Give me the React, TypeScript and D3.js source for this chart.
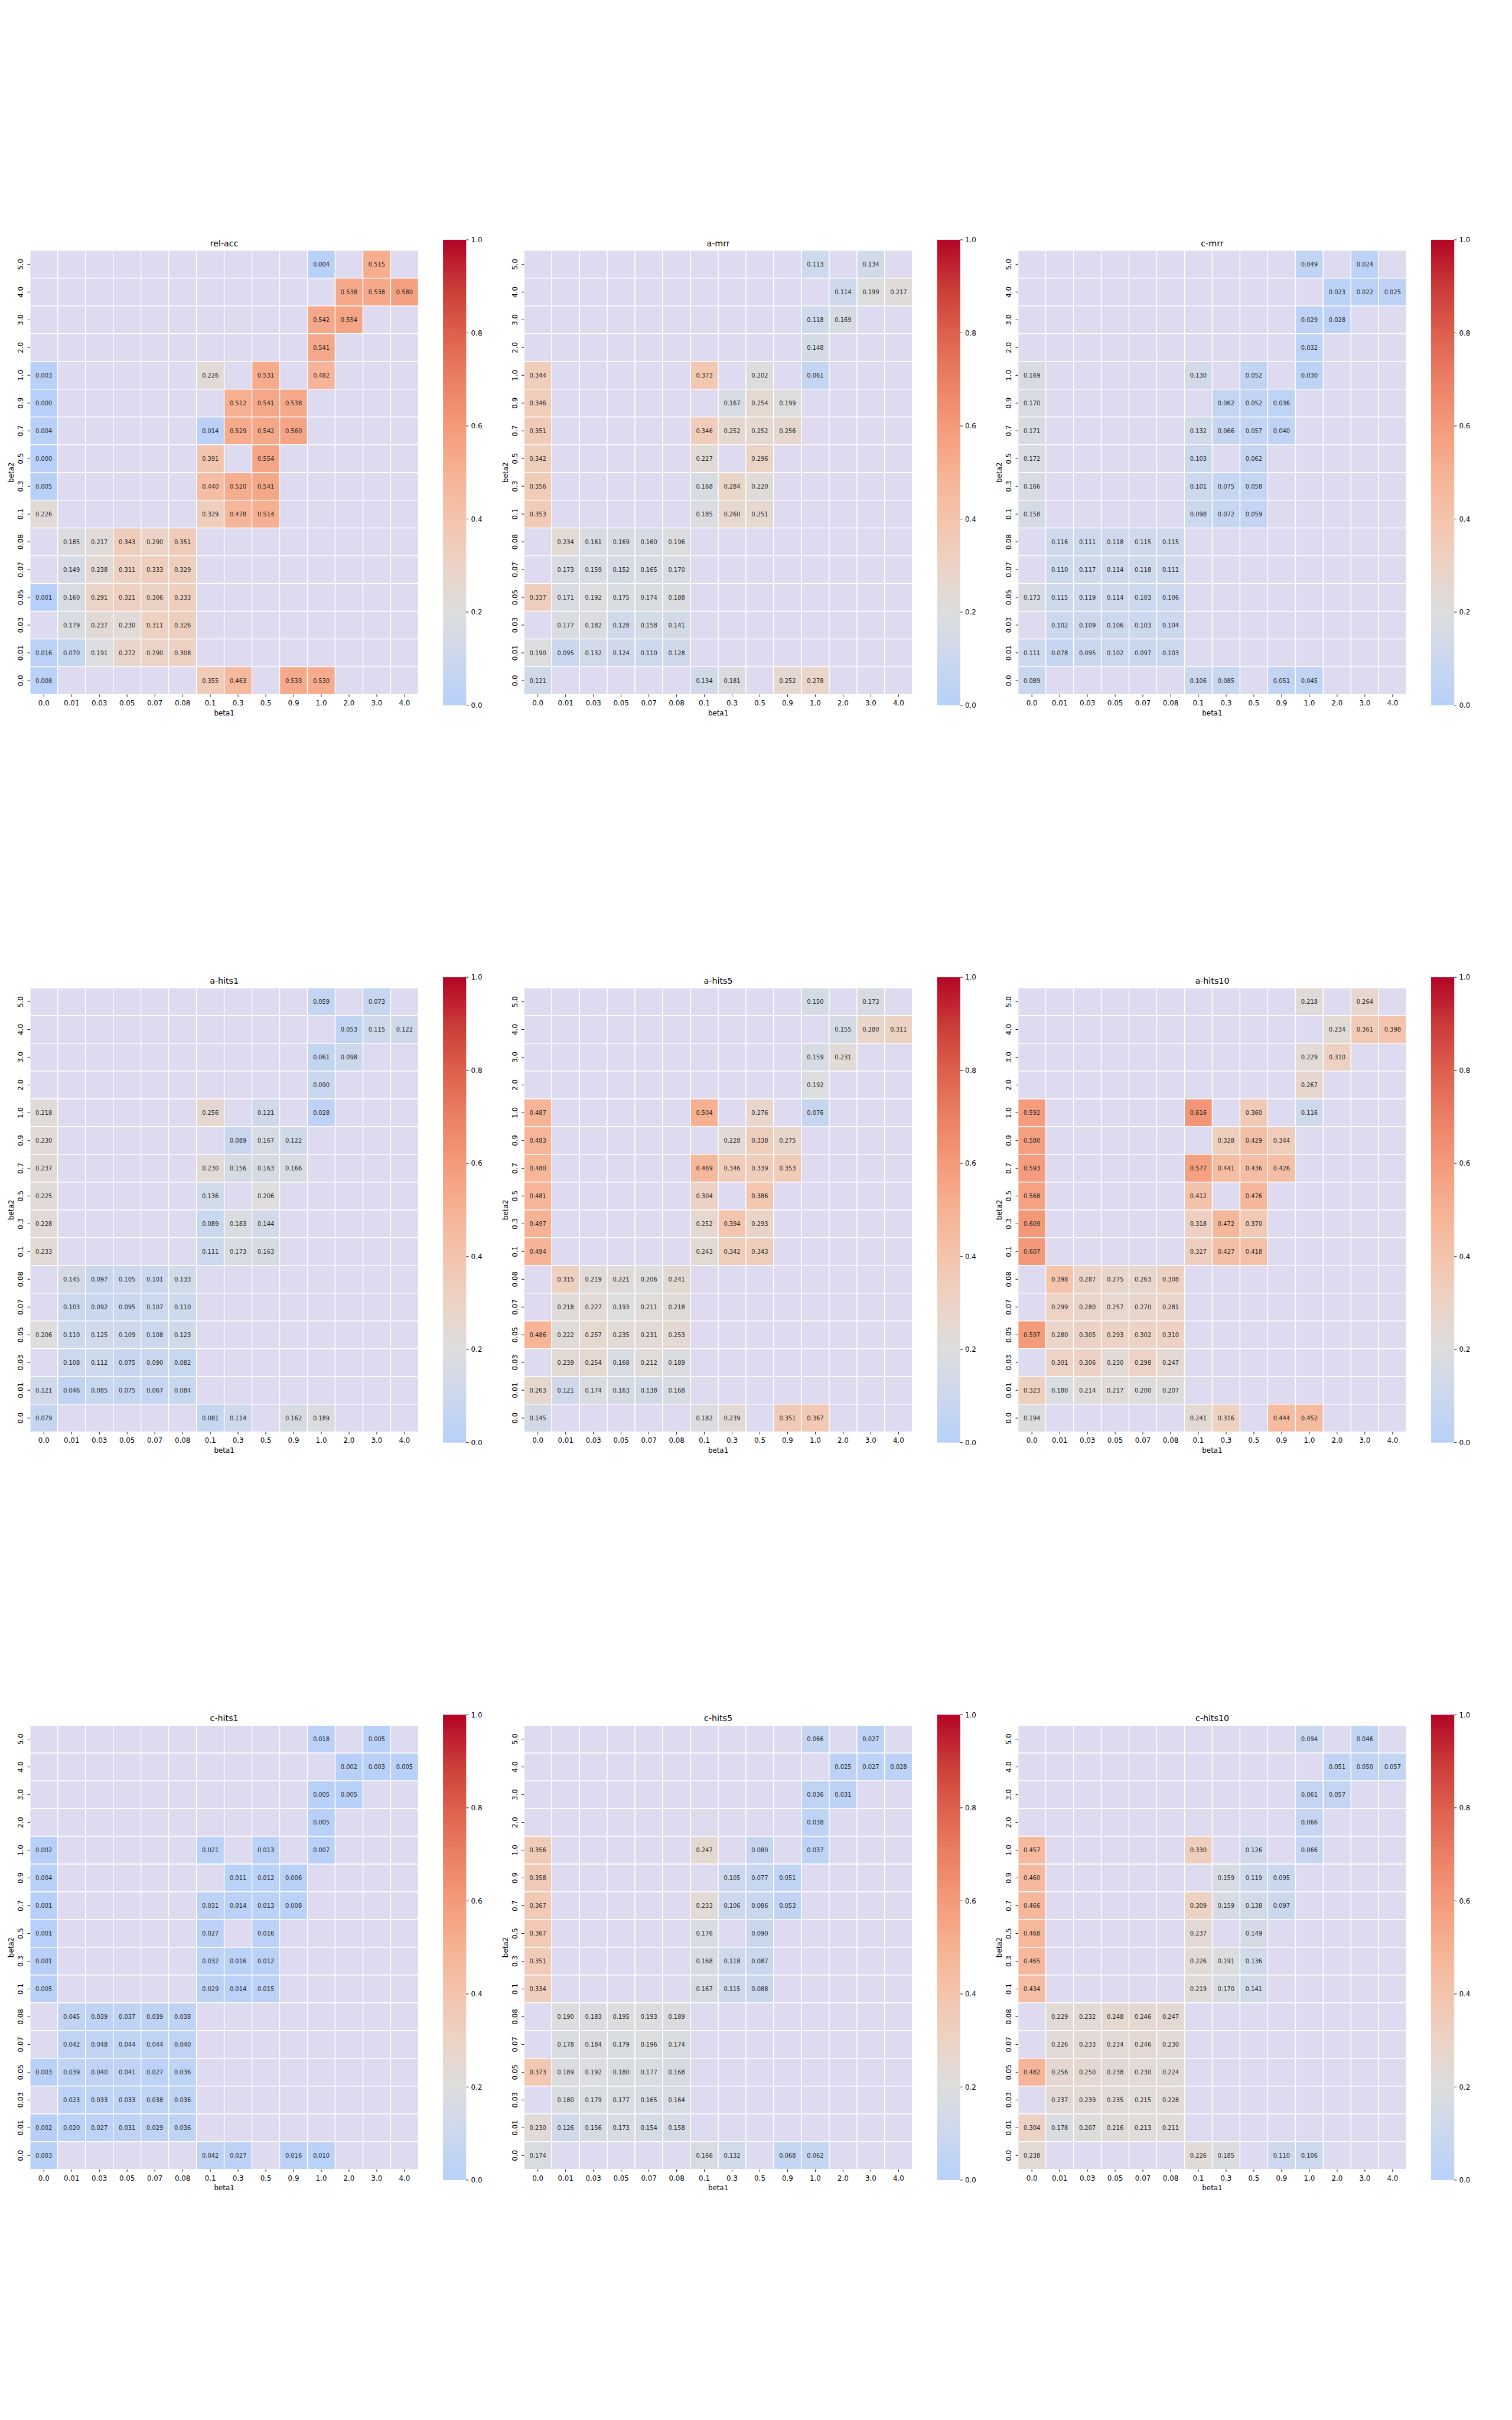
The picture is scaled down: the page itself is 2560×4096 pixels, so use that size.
import React from "react";
import * as d3 from "d3";

const BETA1 = ["0.0", "0.01", "0.03", "0.05", "0.07", "0.08", "0.1", "0.3", "0.5", "0.9", "1.0", "2.0", "3.0", "4.0"];
const BETA2 = ["5.0", "4.0", "3.0", "2.0", "1.0", "0.9", "0.7", "0.5", "0.3", "0.1", "0.08", "0.07", "0.05", "0.03", "0.01", "0.0"];
const CB_TICKS = [0, 0.2, 0.4, 0.6, 0.8, 1.0];

const _ = null;

const REL_ACC = [
  [_, _, _, _, _, _, _, _, _, _, 0.004, _, 0.515, _],
  [_, _, _, _, _, _, _, _, _, _, _, 0.538, 0.538, 0.580],
  [_, _, _, _, _, _, _, _, _, _, 0.542, 0.554, _, _],
  [_, _, _, _, _, _, _, _, _, _, 0.541, _, _, _],
  [0.003, _, _, _, _, _, 0.226, _, 0.531, _, 0.482, _, _, _],
  [0.000, _, _, _, _, _, _, 0.512, 0.541, 0.538, _, _, _, _],
  [0.004, _, _, _, _, _, 0.014, 0.529, 0.542, 0.560, _, _, _, _],
  [0.000, _, _, _, _, _, 0.391, _, 0.554, _, _, _, _, _],
  [0.005, _, _, _, _, _, 0.440, 0.520, 0.541, _, _, _, _, _],
  [0.226, _, _, _, _, _, 0.329, 0.478, 0.514, _, _, _, _, _],
  [_, 0.185, 0.217, 0.343, 0.290, 0.351, _, _, _, _, _, _, _, _],
  [_, 0.149, 0.238, 0.311, 0.333, 0.329, _, _, _, _, _, _, _, _],
  [0.001, 0.160, 0.291, 0.321, 0.306, 0.333, _, _, _, _, _, _, _, _],
  [_, 0.179, 0.237, 0.230, 0.311, 0.326, _, _, _, _, _, _, _, _],
  [0.016, 0.070, 0.191, 0.272, 0.290, 0.308, _, _, _, _, _, _, _, _],
  [0.008, _, _, _, _, _, 0.355, 0.463, _, 0.533, 0.530, _, _, _],
];

const A_MRR = [
  [_, _, _, _, _, _, _, _, _, _, 0.113, _, 0.134, _],
  [_, _, _, _, _, _, _, _, _, _, _, 0.114, 0.199, 0.217],
  [_, _, _, _, _, _, _, _, _, _, 0.118, 0.169, _, _],
  [_, _, _, _, _, _, _, _, _, _, 0.148, _, _, _],
  [0.344, _, _, _, _, _, 0.373, _, 0.202, _, 0.061, _, _, _],
  [0.346, _, _, _, _, _, _, 0.167, 0.254, 0.199, _, _, _, _],
  [0.351, _, _, _, _, _, 0.346, 0.252, 0.252, 0.256, _, _, _, _],
  [0.342, _, _, _, _, _, 0.227, _, 0.296, _, _, _, _, _],
  [0.356, _, _, _, _, _, 0.168, 0.284, 0.220, _, _, _, _, _],
  [0.353, _, _, _, _, _, 0.185, 0.260, 0.251, _, _, _, _, _],
  [_, 0.234, 0.161, 0.169, 0.160, 0.196, _, _, _, _, _, _, _, _],
  [_, 0.173, 0.159, 0.152, 0.165, 0.170, _, _, _, _, _, _, _, _],
  [0.337, 0.171, 0.192, 0.175, 0.174, 0.188, _, _, _, _, _, _, _, _],
  [_, 0.177, 0.182, 0.128, 0.158, 0.141, _, _, _, _, _, _, _, _],
  [0.190, 0.095, 0.132, 0.124, 0.110, 0.128, _, _, _, _, _, _, _, _],
  [0.121, _, _, _, _, _, 0.134, 0.181, _, 0.252, 0.278, _, _, _],
];

const C_MRR = [
  [_, _, _, _, _, _, _, _, _, _, 0.049, _, 0.024, _],
  [_, _, _, _, _, _, _, _, _, _, _, 0.023, 0.022, 0.025],
  [_, _, _, _, _, _, _, _, _, _, 0.029, 0.028, _, _],
  [_, _, _, _, _, _, _, _, _, _, 0.032, _, _, _],
  [0.169, _, _, _, _, _, 0.130, _, 0.052, _, 0.030, _, _, _],
  [0.170, _, _, _, _, _, _, 0.062, 0.052, 0.036, _, _, _, _],
  [0.171, _, _, _, _, _, 0.132, 0.066, 0.057, 0.040, _, _, _, _],
  [0.172, _, _, _, _, _, 0.103, _, 0.062, _, _, _, _, _],
  [0.166, _, _, _, _, _, 0.101, 0.075, 0.058, _, _, _, _, _],
  [0.158, _, _, _, _, _, 0.098, 0.072, 0.059, _, _, _, _, _],
  [_, 0.116, 0.111, 0.118, 0.115, 0.115, _, _, _, _, _, _, _, _],
  [_, 0.110, 0.117, 0.114, 0.118, 0.111, _, _, _, _, _, _, _, _],
  [0.173, 0.115, 0.119, 0.114, 0.103, 0.106, _, _, _, _, _, _, _, _],
  [_, 0.102, 0.109, 0.106, 0.103, 0.104, _, _, _, _, _, _, _, _],
  [0.111, 0.078, 0.095, 0.102, 0.097, 0.103, _, _, _, _, _, _, _, _],
  [0.089, _, _, _, _, _, 0.106, 0.085, _, 0.051, 0.045, _, _, _],
];

const A_HITS1 = [
  [_, _, _, _, _, _, _, _, _, _, 0.059, _, 0.073, _],
  [_, _, _, _, _, _, _, _, _, _, _, 0.053, 0.115, 0.122],
  [_, _, _, _, _, _, _, _, _, _, 0.061, 0.098, _, _],
  [_, _, _, _, _, _, _, _, _, _, 0.090, _, _, _],
  [0.218, _, _, _, _, _, 0.256, _, 0.121, _, 0.028, _, _, _],
  [0.230, _, _, _, _, _, _, 0.089, 0.167, 0.122, _, _, _, _],
  [0.237, _, _, _, _, _, 0.230, 0.156, 0.163, 0.166, _, _, _, _],
  [0.225, _, _, _, _, _, 0.136, _, 0.206, _, _, _, _, _],
  [0.228, _, _, _, _, _, 0.089, 0.183, 0.144, _, _, _, _, _],
  [0.233, _, _, _, _, _, 0.111, 0.173, 0.163, _, _, _, _, _],
  [_, 0.145, 0.097, 0.105, 0.101, 0.133, _, _, _, _, _, _, _, _],
  [_, 0.103, 0.092, 0.095, 0.107, 0.110, _, _, _, _, _, _, _, _],
  [0.206, 0.110, 0.125, 0.109, 0.108, 0.123, _, _, _, _, _, _, _, _],
  [_, 0.108, 0.112, 0.075, 0.090, 0.082, _, _, _, _, _, _, _, _],
  [0.121, 0.046, 0.085, 0.075, 0.067, 0.084, _, _, _, _, _, _, _, _],
  [0.079, _, _, _, _, _, 0.081, 0.114, _, 0.162, 0.189, _, _, _],
];

const A_HITS5 = [
  [_, _, _, _, _, _, _, _, _, _, 0.150, _, 0.173, _],
  [_, _, _, _, _, _, _, _, _, _, _, 0.155, 0.280, 0.311],
  [_, _, _, _, _, _, _, _, _, _, 0.159, 0.231, _, _],
  [_, _, _, _, _, _, _, _, _, _, 0.192, _, _, _],
  [0.487, _, _, _, _, _, 0.504, _, 0.276, _, 0.076, _, _, _],
  [0.483, _, _, _, _, _, _, 0.228, 0.338, 0.275, _, _, _, _],
  [0.480, _, _, _, _, _, 0.469, 0.346, 0.339, 0.353, _, _, _, _],
  [0.481, _, _, _, _, _, 0.304, _, 0.386, _, _, _, _, _],
  [0.497, _, _, _, _, _, 0.252, 0.394, 0.293, _, _, _, _, _],
  [0.494, _, _, _, _, _, 0.243, 0.342, 0.343, _, _, _, _, _],
  [_, 0.315, 0.219, 0.221, 0.206, 0.241, _, _, _, _, _, _, _, _],
  [_, 0.218, 0.227, 0.193, 0.211, 0.218, _, _, _, _, _, _, _, _],
  [0.486, 0.222, 0.257, 0.235, 0.231, 0.253, _, _, _, _, _, _, _, _],
  [_, 0.239, 0.254, 0.168, 0.212, 0.189, _, _, _, _, _, _, _, _],
  [0.263, 0.121, 0.174, 0.163, 0.138, 0.168, _, _, _, _, _, _, _, _],
  [0.145, _, _, _, _, _, 0.182, 0.239, _, 0.351, 0.367, _, _, _],
];

const A_HITS10 = [
  [_, _, _, _, _, _, _, _, _, _, 0.218, _, 0.264, _],
  [_, _, _, _, _, _, _, _, _, _, _, 0.234, 0.361, 0.398],
  [_, _, _, _, _, _, _, _, _, _, 0.229, 0.310, _, _],
  [_, _, _, _, _, _, _, _, _, _, 0.267, _, _, _],
  [0.592, _, _, _, _, _, 0.616, _, 0.360, _, 0.116, _, _, _],
  [0.580, _, _, _, _, _, _, 0.328, 0.429, 0.344, _, _, _, _],
  [0.593, _, _, _, _, _, 0.577, 0.441, 0.436, 0.426, _, _, _, _],
  [0.568, _, _, _, _, _, 0.412, _, 0.476, _, _, _, _, _],
  [0.609, _, _, _, _, _, 0.318, 0.472, 0.370, _, _, _, _, _],
  [0.607, _, _, _, _, _, 0.327, 0.427, 0.418, _, _, _, _, _],
  [_, 0.398, 0.287, 0.275, 0.263, 0.308, _, _, _, _, _, _, _, _],
  [_, 0.299, 0.280, 0.257, 0.270, 0.281, _, _, _, _, _, _, _, _],
  [0.597, 0.280, 0.305, 0.293, 0.302, 0.310, _, _, _, _, _, _, _, _],
  [_, 0.301, 0.306, 0.230, 0.298, 0.247, _, _, _, _, _, _, _, _],
  [0.323, 0.180, 0.214, 0.217, 0.200, 0.207, _, _, _, _, _, _, _, _],
  [0.194, _, _, _, _, _, 0.241, 0.316, _, 0.444, 0.452, _, _, _],
];

const C_HITS1 = [
  [_, _, _, _, _, _, _, _, _, _, 0.018, _, 0.005, _],
  [_, _, _, _, _, _, _, _, _, _, _, 0.002, 0.003, 0.005],
  [_, _, _, _, _, _, _, _, _, _, 0.005, 0.005, _, _],
  [_, _, _, _, _, _, _, _, _, _, 0.005, _, _, _],
  [0.002, _, _, _, _, _, 0.021, _, 0.013, _, 0.007, _, _, _],
  [0.004, _, _, _, _, _, _, 0.011, 0.012, 0.006, _, _, _, _],
  [0.001, _, _, _, _, _, 0.031, 0.014, 0.013, 0.008, _, _, _, _],
  [0.001, _, _, _, _, _, 0.027, _, 0.016, _, _, _, _, _],
  [0.001, _, _, _, _, _, 0.032, 0.016, 0.012, _, _, _, _, _],
  [0.005, _, _, _, _, _, 0.029, 0.014, 0.015, _, _, _, _, _],
  [_, 0.045, 0.039, 0.037, 0.039, 0.038, _, _, _, _, _, _, _, _],
  [_, 0.042, 0.048, 0.044, 0.044, 0.040, _, _, _, _, _, _, _, _],
  [0.003, 0.039, 0.040, 0.041, 0.027, 0.036, _, _, _, _, _, _, _, _],
  [_, 0.023, 0.033, 0.033, 0.038, 0.036, _, _, _, _, _, _, _, _],
  [0.002, 0.020, 0.027, 0.031, 0.029, 0.036, _, _, _, _, _, _, _, _],
  [0.003, _, _, _, _, _, 0.042, 0.027, _, 0.016, 0.010, _, _, _],
];

const C_HITS5 = [
  [_, _, _, _, _, _, _, _, _, _, 0.066, _, 0.027, _],
  [_, _, _, _, _, _, _, _, _, _, _, 0.025, 0.027, 0.028],
  [_, _, _, _, _, _, _, _, _, _, 0.036, 0.031, _, _],
  [_, _, _, _, _, _, _, _, _, _, 0.038, _, _, _],
  [0.356, _, _, _, _, _, 0.247, _, 0.080, _, 0.037, _, _, _],
  [0.358, _, _, _, _, _, _, 0.105, 0.077, 0.051, _, _, _, _],
  [0.367, _, _, _, _, _, 0.233, 0.106, 0.086, 0.053, _, _, _, _],
  [0.367, _, _, _, _, _, 0.176, _, 0.090, _, _, _, _, _],
  [0.351, _, _, _, _, _, 0.168, 0.118, 0.087, _, _, _, _, _],
  [0.334, _, _, _, _, _, 0.167, 0.115, 0.088, _, _, _, _, _],
  [_, 0.190, 0.183, 0.195, 0.193, 0.189, _, _, _, _, _, _, _, _],
  [_, 0.178, 0.184, 0.179, 0.196, 0.174, _, _, _, _, _, _, _, _],
  [0.373, 0.189, 0.192, 0.180, 0.177, 0.168, _, _, _, _, _, _, _, _],
  [_, 0.180, 0.179, 0.177, 0.165, 0.164, _, _, _, _, _, _, _, _],
  [0.230, 0.126, 0.156, 0.173, 0.154, 0.158, _, _, _, _, _, _, _, _],
  [0.174, _, _, _, _, _, 0.166, 0.132, _, 0.068, 0.062, _, _, _],
];

const C_HITS10 = [
  [_, _, _, _, _, _, _, _, _, _, 0.094, _, 0.046, _],
  [_, _, _, _, _, _, _, _, _, _, _, 0.051, 0.050, 0.057],
  [_, _, _, _, _, _, _, _, _, _, 0.061, 0.057, _, _],
  [_, _, _, _, _, _, _, _, _, _, 0.066, _, _, _],
  [0.457, _, _, _, _, _, 0.330, _, 0.126, _, 0.066, _, _, _],
  [0.460, _, _, _, _, _, _, 0.159, 0.119, 0.095, _, _, _, _],
  [0.466, _, _, _, _, _, 0.309, 0.159, 0.138, 0.097, _, _, _, _],
  [0.468, _, _, _, _, _, 0.237, _, 0.149, _, _, _, _, _],
  [0.465, _, _, _, _, _, 0.226, 0.191, 0.136, _, _, _, _, _],
  [0.434, _, _, _, _, _, 0.219, 0.170, 0.141, _, _, _, _, _],
  [_, 0.229, 0.232, 0.248, 0.246, 0.247, _, _, _, _, _, _, _, _],
  [_, 0.226, 0.233, 0.234, 0.246, 0.230, _, _, _, _, _, _, _, _],
  [0.482, 0.256, 0.250, 0.238, 0.230, 0.224, _, _, _, _, _, _, _, _],
  [_, 0.237, 0.239, 0.235, 0.215, 0.228, _, _, _, _, _, _, _, _],
  [0.304, 0.178, 0.207, 0.216, 0.213, 0.211, _, _, _, _, _, _, _, _],
  [0.238, _, _, _, _, _, 0.226, 0.185, _, 0.110, 0.106, _, _, _],
];

const TITLES = ["rel-acc", "a-mrr", "c-mrr", "a-hits1", "a-hits5", "a-hits10", "c-hits1", "c-hits5", "c-hits10"];
const GRIDS = [REL_ACC, A_MRR, C_MRR, A_HITS1, A_HITS5, A_HITS10, C_HITS1, C_HITS5, C_HITS10];

// coolwarm sampled from 0.375 to 1.0 (colorbar value 0..1)
const CMAP_STOPS = [0, 0.1, 0.2, 0.3, 0.4, 0.5, 0.6, 0.7, 0.8, 0.9, 1.0];
const CMAP_COLORS = [
  "rgb(184,208,249)", "rgb(203,216,238)", "rgb(221,221,221)", "rgb(236,211,197)",
  "rgb(244,196,173)", "rgb(246,178,147)", "rgb(244,154,123)", "rgb(235,127,99)",
  "rgb(221,96,77)", "rgb(201,58,55)", "rgb(180,4,38)",
];

const SCALE = 2560 / 3000;
const CELL = 55.05;
const COL_X0 = 59.5;
const COL_STEP = 980.2;
const ROW_Y0 = 496.7;
const ROW_STEP = 1462.7;
const FONT = "'DejaVu Sans', sans-serif";
const NAN_FILL = "#dedaf0";
const TEXT = "#262626";

const color = d3.scaleLinear<string>().domain(CMAP_STOPS).range(CMAP_COLORS).interpolate(d3.interpolateRgb).clamp(true);
const fmt = d3.format(".3f");
const fmt1 = d3.format(".1f");

function Panel({ idx }: { idx: number }) {
  const col = idx % 3;
  const row = Math.floor(idx / 3);
  const x0 = COL_X0 + col * COL_STEP;
  const y0 = ROW_Y0 + row * ROW_STEP;
  const xs = d3.scaleBand<string>().domain(BETA1).range([x0, x0 + BETA1.length * CELL]);
  const ys = d3.scaleBand<string>().domain(BETA2).range([y0, y0 + BETA2.length * CELL]);
  const grid = GRIDS[idx];
  const x1 = x0 + BETA1.length * CELL;
  const y1 = y0 + BETA2.length * CELL;
  const cx = (x0 + x1) / 2;
  const cy = (y0 + y1) / 2;
  const cbTop = y0 - 21;
  const cbH = 923;
  const cbX = x0 + 819.5;
  const cbW = 46;
  const cbY = d3.scaleLinear().domain([0, 1]).range([cbTop + cbH, cbTop]);
  const bw = xs.bandwidth();
  const bh = ys.bandwidth();
  return (
    <g>
      {BETA2.map((b2, r) =>
        BETA1.map((b1, c) => {
          const v = grid[r][c];
          return (
            <rect key={`c${r}-${c}`} x={xs(b1)} y={ys(b2)} width={bw} height={bh}
              fill={v === null ? NAN_FILL : color(v)} stroke="#ffffff" strokeWidth={1.6} />
          );
        })
      )}
      {BETA2.map((b2, r) =>
        BETA1.map((b1, c) => {
          const v = grid[r][c];
          if (v === null) return null;
          return (
            <text key={`t${r}-${c}`} x={(xs(b1) as number) + bw / 2} y={(ys(b2) as number) + bh / 2}
              dy="0.36em" textAnchor="middle" fontSize={11.6} fill={TEXT} fontFamily={FONT}>
              {fmt(v)}
            </text>
          );
        })
      )}
      {/* x axis */}
      {BETA1.map((b1) => {
        const px = (xs(b1) as number) + bw / 2;
        return (
          <g key={`x${b1}`}>
            <line x1={px} x2={px} y1={y1} y2={y1 + 4.86} stroke="#000" strokeWidth={1.1} />
            <text x={px} y={y1 + 17} dy="0.36em" textAnchor="middle" fontSize={13.9} fill="#000" fontFamily={FONT}>{b1}</text>
          </g>
        );
      })}
      <text x={cx} y={y1 + 36.5} dy="0.36em" textAnchor="middle" fontSize={13.9} fill="#000" fontFamily={FONT}>beta1</text>
      {/* y axis */}
      {BETA2.map((b2) => {
        const py = (ys(b2) as number) + bh / 2;
        return (
          <g key={`y${b2}`}>
            <line x1={x0 - 4.86} x2={x0} y1={py} y2={py} stroke="#000" strokeWidth={1.1} />
            <text transform={`translate(${x0 - 18.7},${py}) rotate(-90)`} dy="0.36em" textAnchor="middle"
              fontSize={13.9} fill="#000" fontFamily={FONT}>{b2}</text>
          </g>
        );
      })}
      <text transform={`translate(${x0 - 37},${cy}) rotate(-90)`} dy="0.36em" textAnchor="middle"
        fontSize={13.9} fill="#000" fontFamily={FONT}>beta2</text>
      {/* title */}
      <text x={cx} y={y0 - 8.3} textAnchor="middle" fontSize={16.7} fill="#000" fontFamily={FONT}>{TITLES[idx]}</text>
      {/* colorbar */}
      <rect x={cbX} y={cbTop} width={cbW} height={cbH} fill="url(#cbgrad)" />
      {CB_TICKS.map((t) => (
        <g key={`cb${t}`}>
          <line x1={cbX + cbW} x2={cbX + cbW + 4.86} y1={cbY(t)} y2={cbY(t)} stroke="#000" strokeWidth={1.1} />
          <text x={cbX + cbW + 9.7} y={cbY(t)} dy="0.36em" textAnchor="start" fontSize={13.9} fill="#000" fontFamily={FONT}>{fmt1(t)}</text>
        </g>
      ))}
    </g>
  );
}

export default function App() {
  const gradStops = d3.range(0, 1.0001, 0.02);
  return (
    <svg width={2560} height={4096} style={{ position: "absolute", left: 0, top: 0, background: "#fff" }}>
      <defs>
        <linearGradient id="cbgrad" x1="0" y1="1" x2="0" y2="0">
          {gradStops.map((s) => (
            <stop key={s} offset={s} stopColor={color(s)} />
          ))}
        </linearGradient>
      </defs>
      <rect x={0} y={0} width={2560} height={4096} fill="#fff" />
      <g transform={`scale(${SCALE})`}>
        {TITLES.map((t, i) => (
          <Panel key={t} idx={i} />
        ))}
      </g>
    </svg>
  );
}
